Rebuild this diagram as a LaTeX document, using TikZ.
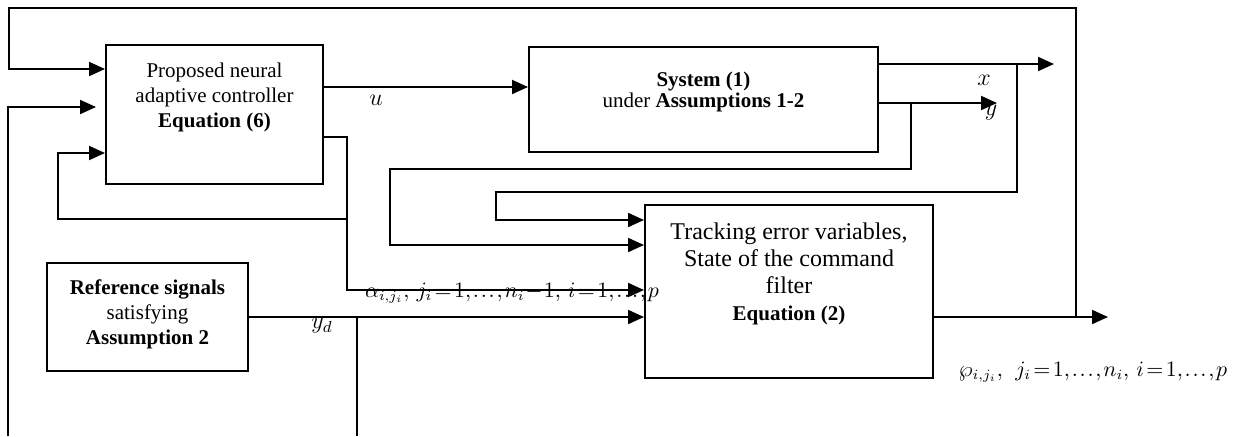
\documentclass[tikz,border=0pt]{standalone}
\usepackage{fontspec}
\setmainfont{Liberation Serif}
\usetikzlibrary{arrows.meta,positioning}
\newcommand\tightmath{\thickmuskip=2mu\relax\medmuskip=1mu\relax\thinmuskip=1.5mu\relax}

\begin{document}
\begin{tikzpicture}[x=0.5pt,y=-0.5pt,
  blk/.style={draw,line width=1pt,inner sep=0pt},
  txt/.style={inner sep=0pt,align=center,font=\fontsize{10.5}{12.5}\selectfont},
  sig/.style={line width=1pt,-{Triangle[length=8pt,width=7pt]}},
  wire/.style={line width=1pt},
  lbl/.style={inner sep=0pt,font=\fontsize{12}{14}\selectfont},
  eqn/.style={inner sep=0pt,font=\fontsize{10.5}{12}\selectfont}
]
\useasboundingbox (0,0) rectangle (1238,436);

% blocks
\node[blk,minimum width=108.5pt,minimum height=69.5pt] (ctrl) at (214.5,114.5) {};
\node[blk,minimum width=174.5pt,minimum height=52.5pt] (sys) at (703.5,99.5) {};
\node[blk,minimum width=144pt,minimum height=86.5pt] (trk) at (789,291.5) {};
\node[blk,minimum width=100.5pt,minimum height=54pt] (ref) at (147.5,317) {};

% block texts
\node[txt,below=9.5pt of ctrl.north] (ctrlTxt)
  {Proposed neural\\adaptive controller\\\textbf{Equation (6)}};
\node[txt,below=13pt of sys.north,font=\fontsize{10.5}{10.5}\selectfont] (sysTxt)
  {\textbf{System (1)}\\under \textbf{Assumptions 1-2}};
\node[txt,below=9pt of trk.north,font=\fontsize{12}{13.5}\selectfont] (trkTxt)
  {Tracking error variables,\\State of the command\\filter\\\fontsize{10.5}{13.5}\selectfont\textbf{Equation (2)}};
\node[txt,below=8.5pt of ref.north] (refTxt)
  {\textbf{Reference signals}\\satisfying\\\textbf{Assumption 2}};

% free ends
\coordinate (xEnd) at (1054,64);
\coordinate (yEnd) at (997,103);
\coordinate (wpEnd) at (1108,317);

% control signal
\draw[sig] (ctrl.east |- 0,87) -- (sys.west |- 0,87);
\node[lbl] (uLbl) at (376,100) {$u$};

% plant outputs
\draw[sig] (sys.east |- xEnd) -- (xEnd);
\draw[sig] (sys.east |- yEnd) -- (yEnd);
\node[lbl] (xLbl) at (984,80) {$x$};
\node[lbl] (yLbl) at (991,113) {$y$};

% outputs fed to the filter
\draw[sig] (1017,64) -- (1017,192) -- (496,192) -- (496,220) -- (trk.west |- 0,220);
\draw[sig] (911,103) -- (911,169) -- (390,169) -- (390,245) -- (trk.west |- 0,245);

% virtual controls
\draw[sig] (ctrl.east |- 0,137) -- (347,137) -- (347,290) -- (trk.west |- 0,290);
\draw[sig] (347,219) -- (58,219) -- (58,153) -- (ctrl.west |- 0,153);
\node[eqn] (alphaLbl) at (512,293)
  {\tightmath$\alpha_{i,j_i},\ j_i=1,\ldots,n_i-1,\ i=1,\ldots,p$};

% reference
\draw[sig] (ref.east |- 0,317) -- (trk.west |- 0,317);
\draw[wire] (357,317) -- (357,436);
\node[lbl] (ydLbl) at (322,326) {$y_d$};

% filter output and loops back
\draw[sig] (trk.east |- wpEnd) -- (wpEnd);
\draw[sig] (1076,317) -- (1076,8) -- (9,8) -- (9,69) -- (ctrl.west |- 0,69);
\draw[sig] (8,436) -- (8,107) -- ([xshift=-4.5pt]ctrl.west |- 0,107);
\node[eqn] (wpLbl) at (1093,372)
  {\tightmath$\wp_{i,j_i},\ \ j_i=1,\ldots,n_i,\ i=1,\ldots,p$};
\end{tikzpicture}
\end{document}
